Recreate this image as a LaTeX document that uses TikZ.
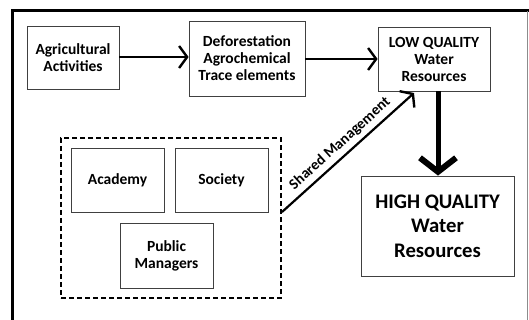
\documentclass[tikz,border=0pt]{standalone}
\usepackage{fontspec}
\setmainfont{Carlito}
\usetikzlibrary{arrows.meta,positioning}
\tikzset{
  box/.style={draw=black!75, line width=0.8pt, fill=white, align=center, inner sep=0pt,
    font=\bfseries\fontsize{15.5}{17}\selectfont},
  conn/.style={line width=2.2pt, -{Straight Barb[length=8pt,width=22pt,line width=2.4pt]}},
  bigconn/.style={line width=5pt, -{Straight Barb[length=14pt,width=36pt,line width=6pt]}},
}
\begin{document}
\begin{tikzpicture}[x=1pt,y=-1pt]
\useasboundingbox (0,0) rectangle (529,320);
% outer frame
\draw[line width=3pt] (12,330) -- (12,11) -- (529,11);
\draw[black!45, line width=0.8pt] (527,11) -- (527,330);
% top row
\node[box, minimum width=92pt, minimum height=63pt] (agri) at (73,57.5) {Agricultural\\Activities};
\node[box, minimum width=116pt, minimum height=75pt] (defo) at (247,58.5) {Deforestation\\Agrochemical\\Trace elements};
\node[box, minimum width=112pt, minimum height=64pt] (low) at (434,59) {LOW QUALITY\\Water\\Resources};
% high quality
\node[box, minimum width=153pt, minimum height=100pt, font=\bfseries\fontsize{20.7}{24.5}\selectfont] (high) at (437.5,226) {HIGH QUALITY\\Water\\Resources};
% dashed group
\node[draw, line width=1.8pt, dash pattern=on 5pt off 3pt, minimum width=220pt, minimum height=160pt, inner sep=0pt] (group) at (171,218) {};
\node[box, minimum width=93pt, minimum height=64pt] (acad) at (117.5,180) {Academy};
\node[box, minimum width=93pt, minimum height=64pt] (soc) at (221.5,180) {Society};
\node[box, minimum width=93pt, minimum height=65pt] (pub) at (166.5,255.5) {Public\\Managers};
% connectors
\draw[conn] (agri.east |- 0,57) -- (defo.west |- 0,57);
\draw[conn] (defo.east |- 0,59) -- (low.west |- 0,59);
\draw[bigconn] (low.south -| 438,0) -- (high.north -| 438,0);
\coordinate (gs) at (282,212);
\draw[conn] (gs) -- node[sloped, above=1pt, font=\bfseries\fontsize{15}{17}\selectfont] {Shared Management} (414,93);
\end{tikzpicture}
\end{document}
